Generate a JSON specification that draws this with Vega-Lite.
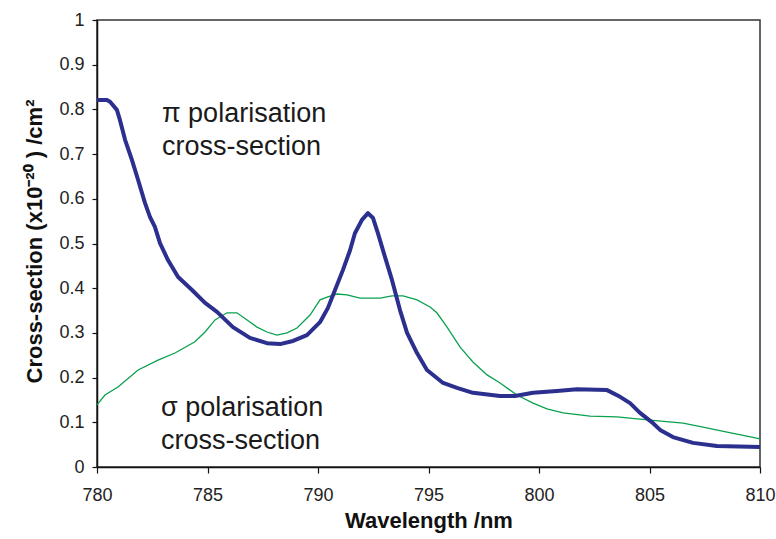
{
  "$schema": "https://vega.github.io/schema/vega-lite/v6.json",
  "width": 663,
  "height": 447,
  "autosize": "none",
  "padding": {"left": 97, "top": 20, "right": 16, "bottom": 72},
  "background": "white",
  "config": {
    "view": {"stroke": "#333333", "strokeWidth": 1.5},
    "font": "Liberation Sans"
  },
  "datasets": {
    "curves": [
      {"series": "pi", "wl": 780.00, "val": 0.821},
      {"series": "pi", "wl": 780.45, "val": 0.821},
      {"series": "pi", "wl": 780.59, "val": 0.817},
      {"series": "pi", "wl": 780.90, "val": 0.799},
      {"series": "pi", "wl": 781.04, "val": 0.776},
      {"series": "pi", "wl": 781.27, "val": 0.732},
      {"series": "pi", "wl": 781.58, "val": 0.687},
      {"series": "pi", "wl": 781.86, "val": 0.642},
      {"series": "pi", "wl": 782.17, "val": 0.591},
      {"series": "pi", "wl": 782.40, "val": 0.559},
      {"series": "pi", "wl": 782.62, "val": 0.537},
      {"series": "pi", "wl": 782.85, "val": 0.501},
      {"series": "pi", "wl": 783.21, "val": 0.463},
      {"series": "pi", "wl": 783.67, "val": 0.425},
      {"series": "pi", "wl": 784.30, "val": 0.396},
      {"series": "pi", "wl": 784.89, "val": 0.367},
      {"series": "pi", "wl": 785.43, "val": 0.347},
      {"series": "pi", "wl": 786.15, "val": 0.313},
      {"series": "pi", "wl": 786.92, "val": 0.289},
      {"series": "pi", "wl": 787.69, "val": 0.277},
      {"series": "pi", "wl": 788.28, "val": 0.275},
      {"series": "pi", "wl": 788.87, "val": 0.282},
      {"series": "pi", "wl": 789.50, "val": 0.295},
      {"series": "pi", "wl": 790.09, "val": 0.324},
      {"series": "pi", "wl": 790.45, "val": 0.356},
      {"series": "pi", "wl": 790.77, "val": 0.396},
      {"series": "pi", "wl": 791.13, "val": 0.441},
      {"series": "pi", "wl": 791.45, "val": 0.485},
      {"series": "pi", "wl": 791.67, "val": 0.523},
      {"series": "pi", "wl": 791.99, "val": 0.553},
      {"series": "pi", "wl": 792.26, "val": 0.568},
      {"series": "pi", "wl": 792.49, "val": 0.557},
      {"series": "pi", "wl": 792.71, "val": 0.523},
      {"series": "pi", "wl": 793.03, "val": 0.470},
      {"series": "pi", "wl": 793.35, "val": 0.418},
      {"series": "pi", "wl": 793.71, "val": 0.351},
      {"series": "pi", "wl": 794.03, "val": 0.300},
      {"series": "pi", "wl": 794.48, "val": 0.255},
      {"series": "pi", "wl": 794.93, "val": 0.217},
      {"series": "pi", "wl": 795.66, "val": 0.188},
      {"series": "pi", "wl": 796.29, "val": 0.177},
      {"series": "pi", "wl": 797.01, "val": 0.166},
      {"series": "pi", "wl": 798.24, "val": 0.159},
      {"series": "pi", "wl": 798.91, "val": 0.159},
      {"series": "pi", "wl": 799.73, "val": 0.166},
      {"series": "pi", "wl": 800.81, "val": 0.170},
      {"series": "pi", "wl": 801.72, "val": 0.174},
      {"series": "pi", "wl": 803.08, "val": 0.172},
      {"series": "pi", "wl": 803.67, "val": 0.157},
      {"series": "pi", "wl": 804.12, "val": 0.143},
      {"series": "pi", "wl": 804.57, "val": 0.121},
      {"series": "pi", "wl": 805.16, "val": 0.098},
      {"series": "pi", "wl": 805.48, "val": 0.083},
      {"series": "pi", "wl": 806.06, "val": 0.067},
      {"series": "pi", "wl": 806.97, "val": 0.054},
      {"series": "pi", "wl": 808.05, "val": 0.047},
      {"series": "pi", "wl": 810.00, "val": 0.045},
      {"series": "sigma", "wl": 780.00, "val": 0.139},
      {"series": "sigma", "wl": 780.36, "val": 0.161},
      {"series": "sigma", "wl": 780.95, "val": 0.179},
      {"series": "sigma", "wl": 781.86, "val": 0.217},
      {"series": "sigma", "wl": 782.76, "val": 0.239},
      {"series": "sigma", "wl": 783.53, "val": 0.255},
      {"series": "sigma", "wl": 784.43, "val": 0.280},
      {"series": "sigma", "wl": 784.89, "val": 0.302},
      {"series": "sigma", "wl": 785.34, "val": 0.329},
      {"series": "sigma", "wl": 785.88, "val": 0.345},
      {"series": "sigma", "wl": 786.33, "val": 0.345},
      {"series": "sigma", "wl": 786.79, "val": 0.329},
      {"series": "sigma", "wl": 787.24, "val": 0.313},
      {"series": "sigma", "wl": 787.69, "val": 0.302},
      {"series": "sigma", "wl": 788.14, "val": 0.295},
      {"series": "sigma", "wl": 788.60, "val": 0.300},
      {"series": "sigma", "wl": 789.05, "val": 0.311},
      {"series": "sigma", "wl": 789.64, "val": 0.340},
      {"series": "sigma", "wl": 790.09, "val": 0.374},
      {"series": "sigma", "wl": 790.41, "val": 0.380},
      {"series": "sigma", "wl": 790.86, "val": 0.387},
      {"series": "sigma", "wl": 791.31, "val": 0.385},
      {"series": "sigma", "wl": 791.90, "val": 0.378},
      {"series": "sigma", "wl": 792.81, "val": 0.378},
      {"series": "sigma", "wl": 793.35, "val": 0.383},
      {"series": "sigma", "wl": 793.85, "val": 0.383},
      {"series": "sigma", "wl": 794.48, "val": 0.374},
      {"series": "sigma", "wl": 795.07, "val": 0.358},
      {"series": "sigma", "wl": 795.38, "val": 0.345},
      {"series": "sigma", "wl": 795.84, "val": 0.313},
      {"series": "sigma", "wl": 796.43, "val": 0.268},
      {"series": "sigma", "wl": 797.01, "val": 0.235},
      {"series": "sigma", "wl": 797.65, "val": 0.206},
      {"series": "sigma", "wl": 798.24, "val": 0.188},
      {"series": "sigma", "wl": 799.00, "val": 0.161},
      {"series": "sigma", "wl": 799.73, "val": 0.143},
      {"series": "sigma", "wl": 800.36, "val": 0.130},
      {"series": "sigma", "wl": 801.09, "val": 0.121},
      {"series": "sigma", "wl": 802.31, "val": 0.114},
      {"series": "sigma", "wl": 803.53, "val": 0.112},
      {"series": "sigma", "wl": 805.02, "val": 0.105},
      {"series": "sigma", "wl": 806.52, "val": 0.098},
      {"series": "sigma", "wl": 807.42, "val": 0.089},
      {"series": "sigma", "wl": 808.51, "val": 0.078},
      {"series": "sigma", "wl": 809.41, "val": 0.069},
      {"series": "sigma", "wl": 810.00, "val": 0.063}
    ],
    "labels": [
      {"wl": 782.94, "val": 0.772, "label": "π polarisation\ncross-section"},
      {"wl": 782.90, "val": 0.115, "label": "σ polarisation\ncross-section"}
    ]
  },
  "layer": [
    {
      "data": {"name": "curves"},
      "transform": [{"filter": "datum.series === 'sigma'"}],
      "mark": {"type": "line", "color": "#0aa14e", "strokeWidth": 1.3, "interpolate": "linear"},
      "encoding": {
        "x": {
          "field": "wl", "type": "quantitative",
          "scale": {"domain": [780, 810], "nice": false, "zero": false},
          "axis": {
            "values": [780, 785, 790, 795, 800, 805, 810],
            "title": "Wavelength /nm",
            "titleFont": "Liberation Sans", "titleFontSize": 22, "titleFontWeight": "bold",
            "titleColor": "#111111", "titleBaseline": "alphabetic", "titleY": 60,
            "labelFont": "Liberation Sans", "labelFontSize": 18, "labelColor": "#222222",
            "labelPadding": 13, "tickSize": 6, "tickColor": "#111111", "domainColor": "#111111",
            "domainWidth": 1.5, "tickWidth": 1.2, "grid": false, "labelFlush": false
          }
        },
        "y": {
          "field": "val", "type": "quantitative",
          "scale": {"domain": [0, 1], "nice": false},
          "axis": {
            "values": [0, 0.1, 0.2, 0.3, 0.4, 0.5, 0.6, 0.7, 0.8, 0.9, 1],
            "format": "~g",
            "title": "Cross-section (x10⁻²⁰ ) /cm²",
            "titleFont": "Liberation Sans", "titleFontSize": 22, "titleFontWeight": "bold",
            "titleColor": "#111111", "titleAngle": -90, "titleBaseline": "alphabetic",
            "titleAlign": "center", "titleX": -56, "titleY": 221,
            "labelFont": "Liberation Sans", "labelFontSize": 18, "labelColor": "#222222",
            "labelPadding": 8, "tickSize": 5, "tickColor": "#111111", "domainColor": "#111111",
            "domainWidth": 1.5, "tickWidth": 1.2, "grid": false, "labelFlush": false
          }
        }
      }
    },
    {
      "data": {"name": "curves"},
      "transform": [{"filter": "datum.series === 'pi'"}],
      "mark": {"type": "line", "color": "#2b2f8e", "strokeWidth": 4, "interpolate": "linear", "strokeJoin": "round"},
      "encoding": {
        "x": {"field": "wl", "type": "quantitative"},
        "y": {"field": "val", "type": "quantitative"}
      }
    },
    {
      "data": {"name": "labels"},
      "mark": {"type": "text", "align": "left", "baseline": "alphabetic", "fontSize": 27, "font": "Liberation Sans", "color": "#1a1a1a", "lineBreak": "\n", "lineHeight": 33},
      "encoding": {
        "x": {"field": "wl", "type": "quantitative"},
        "y": {"field": "val", "type": "quantitative"},
        "text": {"field": "label"}
      }
    }
  ]
}
